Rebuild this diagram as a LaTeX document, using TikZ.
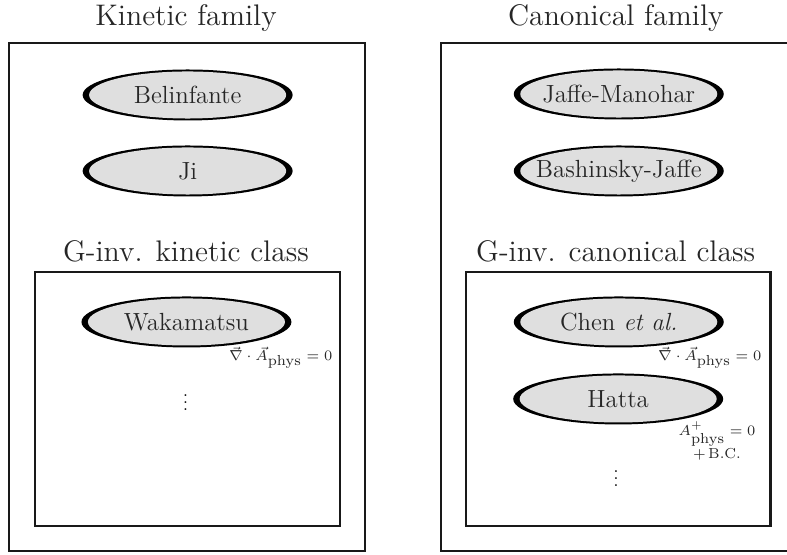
\documentclass[tikz,border=0pt]{standalone}
\usepackage{graphicx}
\usepackage{tikz}
\usetikzlibrary{shapes.geometric}

\tikzset{
  famtitle/.style={font=\Large, text=black!85},
  famframe/.style={line width=1.4pt, draw=black!90},
  model/.style={ellipse, inner sep=0pt, minimum width=3.57cm, minimum height=0.867cm,
    fill=black, label={[font=\large, text=black!85]center:#1},
    path picture={\fill[gray!25] (path picture bounding box.center) ellipse [x radius=1.675cm, y radius=0.4cm];}},
  cond/.style={font=\scriptsize, text=black!85, inner sep=0pt}
}
\newcommand{\physsub}{\mbox{\scriptsize phys}}

\begin{document}
\begin{tikzpicture}
    \useasboundingbox (0, 0) rectangle (13.38, 9.435);
    \clip (0, 0) rectangle (13.38, 9.435);
    \draw[famframe] (0.153, 0.068) rectangle (6.205, 8.704);
    \draw[famframe] (0.595, 0.493) rectangle (5.78, 4.811);
    \draw[famframe] (7.497, 0.068) rectangle (13.55, 8.704);
    \draw[famframe] (7.922, 0.493) rectangle (13.107, 4.811);
    \node[famtitle] (kinfam) at (3.162, 9.13) {Kinetic family};
    \node[famtitle] (canfam) at (10.47, 9.13) {Canonical family};
    \node[famtitle] (kinclass) at (3.162, 5.168) {G-inv. kinetic class};
    \node[famtitle] (canclass) at (10.467, 5.168) {G-inv. canonical class};
    \foreach \id/\x/\y/\txt in {bel/3.19/7.82/Belinfante, ji/3.19/6.528/Ji, wak/3.17/3.961/Wakamatsu,
        jm/10.52/7.837/Jaffe-Manohar, bj/10.52/6.528/Bashinsky-Jaffe,
        chen/10.52/3.961/{Chen \emph{et al.}}, hatta/10.51/2.652/Hatta}
        \node[model={\txt}] (\id) at (\x, \y) {};
    \node[cond, anchor=east] (wakcond) at (5.656, 3.35) {$\vec{\nabla}\cdot\vec{A}_{\physsub}=0$};
    \node[cond, anchor=east] (chencond) at (12.95, 3.35) {$\vec{\nabla}\cdot\vec{A}_{\physsub}=0$};
    \node[cond, align=center] (hattacond) at (12.19, 1.94) {$A^+_{\physsub}=0$\\$+$\,B.C.};
    \node[inner sep=0pt, anchor=south] (kindots) at (3.154, 2.448) {\scalebox{0.85}{$\vdots$}};
    \node[inner sep=0pt, anchor=south] (candots) at (10.472, 1.156) {\scalebox{0.85}{$\vdots$}};
\end{tikzpicture}
\end{document}
